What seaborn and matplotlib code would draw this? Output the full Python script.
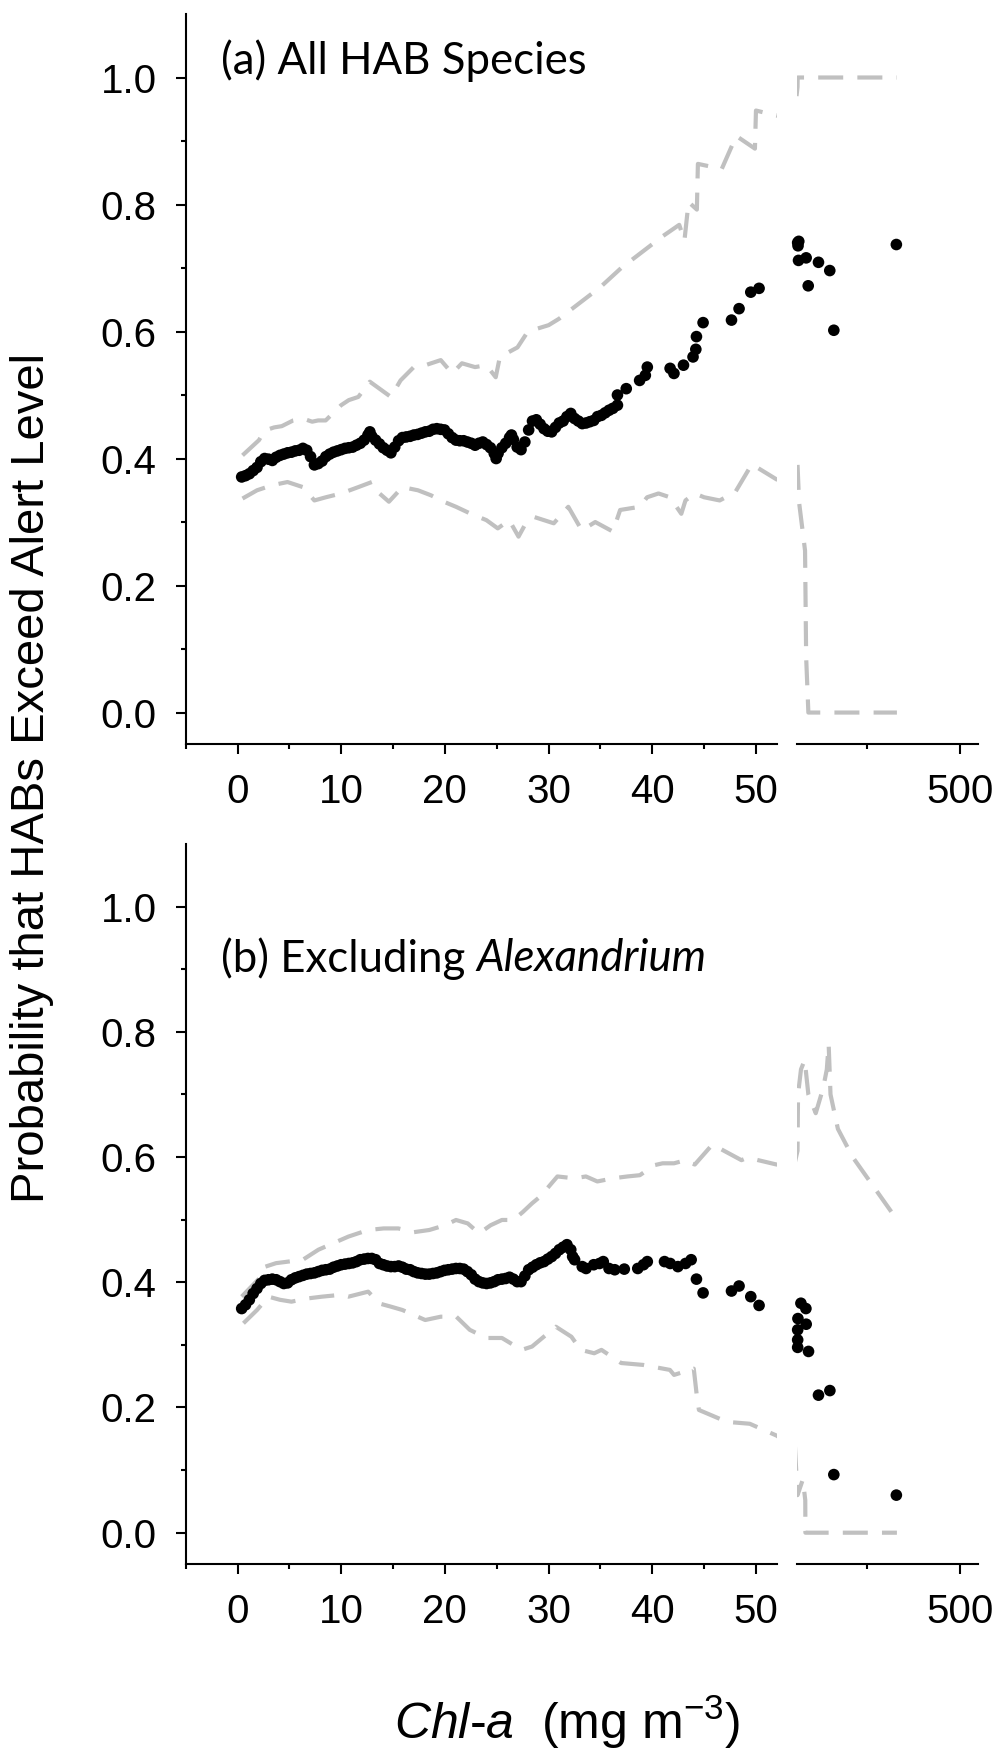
import matplotlib
matplotlib.use("Agg")
import matplotlib.pyplot as plt
import seaborn as sns
from matplotlib.ticker import MultipleLocator, FixedLocator

sns.set_theme(style="white")
plt.rcParams['font.family'] = ['Liberation Sans', 'DejaVu Sans']
plt.rcParams['mathtext.fontset'] = 'custom'
plt.rcParams['mathtext.rm'] = 'Liberation Sans'
plt.rcParams['mathtext.it'] = 'Liberation Sans:italic'

# ---------------- Panel (a): All HAB species ----------------
a_pts_x = [0.400, 0.769, 1.138, 1.507, 1.876, 2.245, 2.614, 2.983, 3.352, 3.721, 4.091, 4.460,
           4.828, 5.198, 5.567, 5.935, 6.305, 6.674, 7.042, 7.412, 7.781, 8.150, 8.519, 8.888,
           9.257, 9.626, 9.995, 10.364, 10.733, 11.102, 11.471, 11.840, 12.209, 12.578, 12.763,
           12.947, 13.316, 13.685, 14.054, 14.423, 14.792, 15.161, 15.531, 15.899, 16.269,
           16.638, 17.006, 17.376, 17.745, 18.114, 18.483, 18.852, 19.221, 19.590, 19.959,
           20.328, 20.697, 21.066, 21.436, 21.804, 22.173, 22.543, 22.912, 23.280, 23.650,
           24.019, 24.388, 24.757, 24.942, 25.126, 25.495, 25.864, 26.233, 26.418, 26.603,
           26.971, 27.340, 27.710, 28.078, 28.447, 28.817, 29.186, 29.555, 29.924, 30.293,
           30.662, 31.031, 31.400, 31.769, 32.138, 32.507, 32.876, 33.245, 33.614, 33.983,
           34.352, 34.721, 35.090, 35.459, 35.828, 36.197, 36.64, 36.64, 37.49, 38.78, 39.33,
           39.52, 41.72, 42.09, 43.01, 43.93, 44.2, 44.26, 44.9, 47.64, 48.37, 49.5, 50.3,
           61, 62, 64, 63.3, 84, 117.4, 148, 89.6, 159, 328.5]
a_pts_y = [0.371, 0.373, 0.376, 0.381, 0.386, 0.395, 0.400, 0.399, 0.397, 0.402, 0.405, 0.407,
           0.409, 0.410, 0.412, 0.413, 0.416, 0.413, 0.403, 0.390, 0.392, 0.396, 0.403, 0.407,
           0.410, 0.412, 0.414, 0.416, 0.417, 0.418, 0.421, 0.424, 0.429, 0.437, 0.442,
           0.435, 0.429, 0.423, 0.417, 0.413, 0.409, 0.418, 0.428, 0.433, 0.434,
           0.435, 0.437, 0.438, 0.440, 0.442, 0.443, 0.446, 0.447, 0.446, 0.445,
           0.439, 0.433, 0.429, 0.428, 0.428, 0.426, 0.424, 0.421, 0.424, 0.426,
           0.422, 0.417, 0.408, 0.400, 0.408, 0.417, 0.424, 0.433, 0.437, 0.430,
           0.418, 0.414, 0.426, 0.445, 0.459, 0.461, 0.454, 0.447, 0.443, 0.442,
           0.449, 0.456, 0.459, 0.466, 0.471, 0.463, 0.459, 0.455, 0.456, 0.458,
           0.460, 0.466, 0.468, 0.472, 0.476, 0.479, 0.484, 0.500, 0.510, 0.523, 0.531,
           0.544, 0.542, 0.534, 0.547, 0.560, 0.572, 0.592, 0.614, 0.618, 0.636, 0.662, 0.668,
           0.740, 0.735, 0.742, 0.712, 0.716, 0.709, 0.696, 0.672, 0.602, 0.737]

a_up_x = [0.48, 2.07, 2.6, 3.53, 4.27, 5.37, 6.3, 7.2, 7.77, 8.5, 9.99, 10.73, 11.65, 12.76,
          14.79, 15.72, 17.0, 18.12, 19.6, 20.7, 21.64, 22.9, 24.0, 24.9, 25.3, 27.0, 28.0,
          30.0, 31.0, 33.0, 35.0, 37.0, 39.0, 41.0, 42.6, 43.1, 43.5, 44.3, 44.4, 46.7,
          48.1, 49.9, 50.0, 52.0,
          60.6, 61, 330]
a_up_y = [0.405, 0.429, 0.444, 0.449, 0.451, 0.460, 0.463, 0.458, 0.460, 0.460, 0.484, 0.492,
          0.497, 0.521, 0.497, 0.523, 0.544, 0.547, 0.555, 0.534, 0.550, 0.544, 0.547, 0.528,
          0.560, 0.575, 0.600, 0.610, 0.620, 0.645, 0.670, 0.700, 0.725, 0.750, 0.768, 0.743,
          0.804, 0.792, 0.864, 0.856, 0.908, 0.888, 0.948, 0.940,
          0.985, 1.0, 1.0]

a_lo_x = [0.48, 1.88, 3.35, 4.82, 6.3, 7.41, 8.52, 9.99, 11.65, 12.95, 13.69, 14.6, 15.9,
          17.4, 18.67, 19.6, 21.07, 22.5, 24.0, 25.1, 26.2, 27.1, 27.7, 28.6, 30.5, 31.9,
          33.2, 34.5, 36.2, 36.9, 38.8, 39.5, 40.6, 41.7, 42.8, 43.2, 44.1, 45.0, 46.5,
          48.0, 49.6, 52.0,
          60.6, 64.8, 81, 84, 90, 330]
a_lo_y = [0.337, 0.350, 0.358, 0.363, 0.355, 0.334, 0.339, 0.345, 0.355, 0.363, 0.345, 0.332,
          0.355, 0.350, 0.342, 0.334, 0.324, 0.313, 0.303, 0.290, 0.303, 0.277, 0.295, 0.308,
          0.298, 0.324, 0.287, 0.300, 0.285, 0.319, 0.324, 0.339, 0.345, 0.339, 0.313, 0.334,
          0.345, 0.339, 0.334, 0.347, 0.391, 0.367,
          0.391, 0.331, 0.255, 0.087, 0.0, 0.0]

# ---------------- Panel (b): excluding Alexandrium ----------------
b_pts_x = [0.400, 0.769, 1.138, 1.507, 1.876, 2.245, 2.614, 2.983, 3.352, 3.721, 4.091, 4.460,
           4.828, 5.198, 5.567, 5.935, 6.305, 6.674, 7.042, 7.412, 7.781, 8.150, 8.519, 8.888,
           9.257, 9.626, 9.995, 10.364, 10.733, 11.102, 11.471, 11.840, 12.209, 12.578, 12.947,
           13.316, 13.685, 14.054, 14.423, 14.792, 15.161, 15.531, 15.899, 16.269, 16.638,
           17.006, 17.376, 17.745, 18.114, 18.483, 18.852, 19.221, 19.590, 19.959, 20.328,
           20.697, 21.066, 21.436, 21.804, 22.173, 22.543, 22.912, 23.280, 23.650, 24.019,
           24.388, 24.757, 25.126, 25.495, 25.864, 26.233, 26.603, 26.971, 27.340, 27.710,
           28.078, 28.447, 28.817, 29.186, 29.555, 29.924, 30.293, 30.662, 31.031, 31.400,
           31.769, 32.138, 32.32, 32.507, 33.245, 33.614, 34.352, 34.91, 35.27, 35.828, 36.38,
           37.30, 38.60, 39.15, 39.52, 41.18, 41.73, 42.47, 43.21, 43.75, 44.26, 44.9, 47.64,
           48.37, 49.5, 50.3,
           69.8, 83.3, 61.7, 84.1, 61, 61, 61, 90.4, 117.4, 148.3, 159, 328.5]
b_pts_y = [0.358, 0.364, 0.372, 0.382, 0.390, 0.398, 0.403, 0.404, 0.405, 0.404, 0.401, 0.398,
           0.399, 0.404, 0.407, 0.409, 0.411, 0.413, 0.414, 0.415, 0.417, 0.419, 0.420, 0.421,
           0.424, 0.426, 0.428, 0.429, 0.430, 0.431, 0.433, 0.436, 0.437, 0.438, 0.438,
           0.436, 0.430, 0.428, 0.426, 0.425, 0.425, 0.426, 0.424, 0.421, 0.420,
           0.417, 0.415, 0.414, 0.413, 0.413, 0.414, 0.415, 0.417, 0.419, 0.420,
           0.421, 0.422, 0.422, 0.421, 0.417, 0.412, 0.405, 0.401, 0.399, 0.398,
           0.399, 0.401, 0.404, 0.405, 0.406, 0.408, 0.405, 0.401, 0.401, 0.410,
           0.420, 0.424, 0.428, 0.431, 0.433, 0.437, 0.441, 0.446, 0.452, 0.456,
           0.460, 0.452, 0.441, 0.436, 0.425, 0.422, 0.428, 0.430, 0.433, 0.422, 0.420,
           0.421, 0.422, 0.428, 0.433, 0.433, 0.430, 0.425, 0.430, 0.436, 0.405, 0.383, 0.386,
           0.394, 0.377, 0.363,
           0.3665, 0.358, 0.342, 0.333, 0.324, 0.308, 0.296, 0.2895, 0.2197, 0.227, 0.0928, 0.060]

b_up_x = [0.4, 2.26, 2.6, 3.71, 6.3, 7.8, 8.9, 10.7, 12.6, 14.1, 15.5, 17.0, 18.5, 20.0,
          21.07, 22.2, 23.3, 24.4, 25.5, 26.6, 27.5, 28.4, 29.2, 30.85, 32.5, 33.6, 34.7,
          36.2, 37.6, 38.8, 40.2, 41.0, 42.1, 43.2, 44.1, 45.8, 48.6, 49.2, 52.0,
          60.6, 62, 70, 80, 90, 110, 130, 140, 145, 150, 170, 210, 270, 330]
b_up_y = [0.377, 0.409, 0.4245, 0.4305, 0.436, 0.452, 0.460, 0.473, 0.4835, 0.486, 0.486,
          0.480, 0.4835, 0.491, 0.4995, 0.494, 0.478, 0.491, 0.4995, 0.4995, 0.512, 0.526,
          0.537, 0.569, 0.566, 0.569, 0.561, 0.566, 0.569, 0.571, 0.587, 0.590, 0.590,
          0.595, 0.588, 0.620, 0.595, 0.599, 0.588,
          0.61, 0.70, 0.74, 0.755, 0.70, 0.67, 0.71, 0.74, 0.78, 0.70, 0.645, 0.60, 0.55, 0.50]

b_lo_x = [0.57, 1.88, 2.98, 4.09, 5.2, 6.67, 8.15, 10.0, 10.7, 12.6, 13.7, 14.8, 15.9, 17.0,
          18.1, 19.6, 21.1, 22.4, 24.0, 25.5, 27.4, 28.4, 30.7, 32.2, 33.1, 34.4, 35.1,
          37.0, 39.1, 41.7, 42.1, 44.0, 44.3, 44.5, 47.2, 49.4, 52.0,
          60.6, 75, 81.6, 82, 330]
b_lo_y = [0.3345, 0.3557, 0.377, 0.372, 0.369, 0.374, 0.377, 0.380, 0.377, 0.385, 0.366,
          0.361, 0.3557, 0.3477, 0.3397, 0.345, 0.345, 0.324, 0.311, 0.311, 0.292, 0.2973,
          0.329, 0.313, 0.292, 0.2866, 0.292, 0.271, 0.268, 0.260, 0.252, 0.262, 0.218,
          0.196, 0.177, 0.174, 0.155,
          0.06, 0.085, 0.052, 0.0, 0.0]

y_ticks = [0.0, 0.2, 0.4, 0.6, 0.8, 1.0]
y_minor = [0.1, 0.3, 0.5, 0.7, 0.9]
left_major = [0, 10, 20, 30, 40, 50]
right_major = [500]
right_minor = [250]

W, H = 1000.0, 1754.0
fig = plt.figure(figsize=(10, 17.54), dpi=100)


def rect(x0, y0, x1, y1):
    return [x0 / W, 1 - y1 / H, (x1 - x0) / W, (y1 - y0) / H]


LINE_C = '#c0c0c0'
DASH = (0, (6, 3.4))
TICK_FS = 29


def style_axis(ax, left=True):
    for s in ['top', 'right']:
        ax.spines[s].set_visible(False)
    if not left:
        ax.spines['left'].set_visible(False)
    for s in ['left', 'bottom']:
        ax.spines[s].set_color('black')
        ax.spines[s].set_linewidth(1.5)
    ax.tick_params(which='major', direction='out', length=7, width=1.5, color='black',
                   labelsize=TICK_FS, pad=14, labelcolor='black')
    ax.tick_params(which='minor', direction='out', length=3.8, width=1.5, color='black')
    ax.set_ylim(-0.05, 1.1)
    ax.set_xlabel('')
    ax.set_ylabel('')
    ax.grid(False)
    ax.set_facecolor('white')


def draw(ax, px, py, ux, uy, lx, ly):
    sns.lineplot(x=ux, y=uy, ax=ax, color=LINE_C, lw=3.0, estimator=None, sort=False,
                 linestyle=DASH, zorder=2)
    sns.lineplot(x=lx, y=ly, ax=ax, color=LINE_C, lw=3.0, estimator=None, sort=False,
                 linestyle=DASH, zorder=2)
    sns.scatterplot(x=px, y=py, ax=ax, color='black', s=70, edgecolor='none',
                    linewidth=0, zorder=3, clip_on=False, legend=False)


panels = [
    ((185.7, 14, 776.7, 744.3), (797.3, 14, 977.7, 744.3),
     a_pts_x, a_pts_y, a_up_x, a_up_y, a_lo_x, a_lo_y),
    ((185.7, 844, 776.7, 1564), (797.3, 844, 977.7, 1564),
     b_pts_x, b_pts_y, b_up_x, b_up_y, b_lo_x, b_lo_y),
]

axes_left = []
for lr, rr, px, py, ux, uy, lx, ly in panels:
    axl = fig.add_axes(rect(*lr))
    axr = fig.add_axes(rect(*rr))
    lpx = [x for x in px if x <= 52]
    lpy = [y for x, y in zip(px, py) if x <= 52]
    rpx = [x for x in px if x > 52]
    rpy = [y for x, y in zip(px, py) if x > 52]
    draw(axl, lpx, lpy, ux, uy, lx, ly)
    draw(axr, rpx, rpy, ux, uy, lx, ly)
    style_axis(axl, left=True)
    style_axis(axr, left=False)
    axl.set_xlim(-5, 52)
    axr.set_xlim(60, 549)
    axl.xaxis.set_major_locator(FixedLocator(left_major))
    axl.xaxis.set_minor_locator(MultipleLocator(5))
    axl.set_xticklabels([str(v) for v in left_major])
    axl.yaxis.set_major_locator(FixedLocator(y_ticks))
    axl.yaxis.set_minor_locator(FixedLocator(y_minor))
    axl.set_yticklabels([f'{v:.1f}' for v in y_ticks])
    axr.xaxis.set_major_locator(FixedLocator(right_major))
    axr.xaxis.set_minor_locator(FixedLocator(right_minor))
    axr.set_xticklabels([str(v) for v in right_major])
    axr.set_yticks([])
    axr.tick_params(axis='y', left=False, labelleft=False)
    axl.tick_params(axis='x', which='both', bottom=True)
    axr.tick_params(axis='x', which='both', bottom=True)
    axl.tick_params(axis='y', which='both', left=True)
    axes_left.append(axl)

TITLE_FONT = ['Lato', 'DejaVu Sans']
TITLE_FS = 31.5
axa, axb = axes_left
axa.text(0.0597, 0.9357, '(a) All HAB Species', transform=axa.transAxes,
         fontsize=TITLE_FS, family=TITLE_FONT, ha='left', va='center', color='black')
tb = axb.text(0.0597, 0.8408, '(b) Excluding ', transform=axb.transAxes,
              fontsize=TITLE_FS, family=TITLE_FONT, ha='left', va='center', color='black')
renderer = fig.canvas.get_renderer()
bb = tb.get_window_extent(renderer=renderer)
x_end = axb.transAxes.inverted().transform((bb.x1, bb.y0))[0]
axb.text(x_end, 0.8408, 'Alexandrium', transform=axb.transAxes, fontsize=TITLE_FS,
         family=TITLE_FONT, style='italic', ha='left', va='center', color='black')

fig.text(0.032, 1 - 778 / H, 'Probability that HABs Exceed Alert Level', rotation=90,
         ha='center', va='center', fontsize=34, color='black')
fig.text(0.567, 1 - 1739 / H, r'$\mathit{Chl}$-$\mathit{a}$  (mg m$^{\mathrm{-3}}$)',
         ha='center', va='baseline', fontsize=36, color='black')

fig.savefig('out.png', dpi=100, facecolor='white')
